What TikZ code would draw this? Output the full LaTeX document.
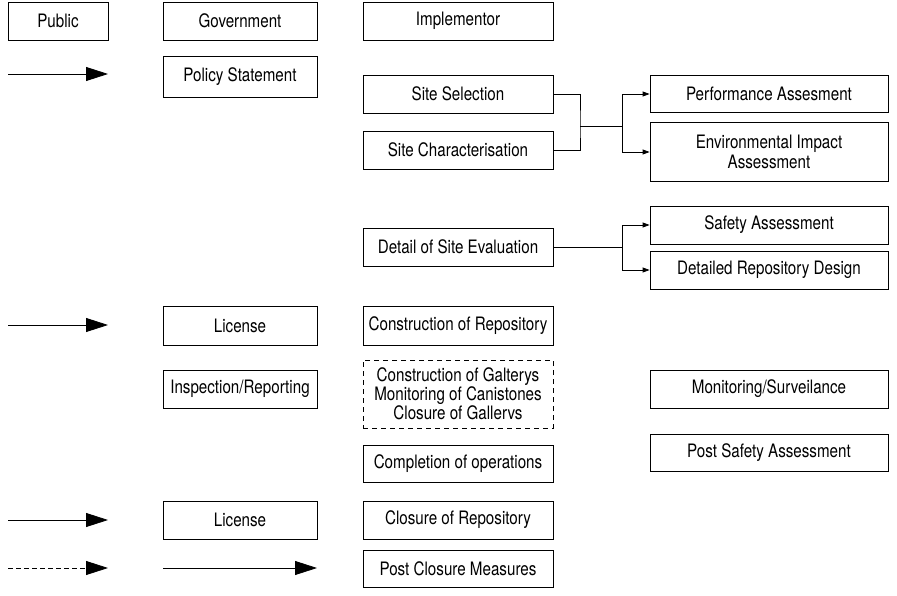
\documentclass[tikz,border=0pt]{standalone}
\usepackage{fontspec}
\setmainfont[FakeStretch=0.82]{TeX Gyre Heros}
\usetikzlibrary{arrows.meta}
\tikzset{
  box/.style={draw=black, line width=0.8pt, inner sep=0pt, align=center,
    font=\fontsize{18.5}{20}\selectfont},
  bigarrow/.style={line width=0.8pt, -{Triangle[length=22pt,width=14pt]}},
  smallarrow/.style={line width=0.8pt, -{Triangle[length=7pt,width=5pt]}},
  conn/.style={line width=0.8pt},
}
\begin{document}
\begin{tikzpicture}[x=1pt,y=-1pt]
\useasboundingbox (0,0) rectangle (897,596);
% header row
\node[box, minimum width=100, minimum height=38] (pub) at (58,21) {Public};
\node[box, minimum width=154, minimum height=38] (gov) at (240,21) {Government};
\node[box, minimum width=190, minimum height=38] (impl) at (458,21) {Implementor};
% policy
\node[box, minimum width=154, minimum height=41] (pol) at (240,77) {Policy Statement};
\coordinate (a1s) at (8,74); \coordinate (a1e) at (108,74);
\draw[bigarrow] (a1s) -- (a1e);
% site selection
\node[box, minimum width=190, minimum height=38] (ss) at (458,94) {Site Selection};
\node[box, minimum width=190, minimum height=38] (sc) at (458,150) {Site Characterisation};
\node[box, minimum width=238, minimum height=37] (pa) at (769,94) {Performance Assesment};
\node[box, minimum width=238, minimum height=59] (env) at (769,152) {Environmental Impact\\Assessment};
\coordinate (j1) at (580,126);
\coordinate (j2) at (622,126);
\draw[conn] (ss.east) -| (j1) |- (sc.east);
\draw[conn] (j1) -- (j2);
\draw[smallarrow] (j2) |- (pa.west);
\draw[smallarrow] (j2) |- (env.west);
% detail
\node[box, minimum width=190, minimum height=38] (dse) at (458,247) {Detail of Site Evaluation};
\node[box, minimum width=238, minimum height=38] (sa) at (769,225) {Safety Assessment};
\node[box, minimum width=238, minimum height=38] (drd) at (769,270) {Detailed Repository Design};
\coordinate (j3) at (622,247);
\draw[conn] (dse.east) -- (j3);
\draw[smallarrow] (j3) |- (sa.west);
\draw[smallarrow] (j3) |- (drd.west);
% license / construction
\coordinate (a2s) at (8,325); \coordinate (a2e) at (108,325);
\draw[bigarrow] (a2s) -- (a2e);
\node[box, minimum width=154, minimum height=39] (lic1) at (240,326) {License};
\node[box, minimum width=190, minimum height=39] (cor) at (458,326) {Construction of Repository};
% inspection
\node[box, minimum width=154, minimum height=38] (insp) at (240,389) {Inspection/Reporting};
\node[box, dashed, dash pattern=on 5pt off 4pt, minimum width=190, minimum height=68] (gal) at (458,394)
  {Construction of Galterys\\[-1pt]Monitoring of Canistones\\[-1pt]Closure of Gallervs};
\node[box, minimum width=238, minimum height=38] (mon) at (769,389) {Monitoring/Surveilance};
% completion
\node[box, minimum width=238, minimum height=37] (psa) at (769,453) {Post Safety Assessment};
\node[box, minimum width=190, minimum height=37] (comp) at (458,464) {Completion of operations};
% closure
\coordinate (a3s) at (8,520); \coordinate (a3e) at (108,520);
\draw[bigarrow] (a3s) -- (a3e);
\node[box, minimum width=154, minimum height=38] (lic2) at (240,520) {License};
\node[box, minimum width=190, minimum height=38] (clr) at (458,520) {Closure of Repository};
% post closure
\coordinate (a4s) at (8,568); \coordinate (a4e) at (108,568);
\draw[bigarrow, dashed, dash pattern=on 5pt off 3pt] (a4s) -- (a4e);
\coordinate (a5s) at (163,568); \coordinate (a5e) at (317,568);
\draw[bigarrow] (a5s) -- (a5e);
\node[box, minimum width=190, minimum height=37] (pcm) at (458,569) {Post Closure Measures};
\end{tikzpicture}
\end{document}
